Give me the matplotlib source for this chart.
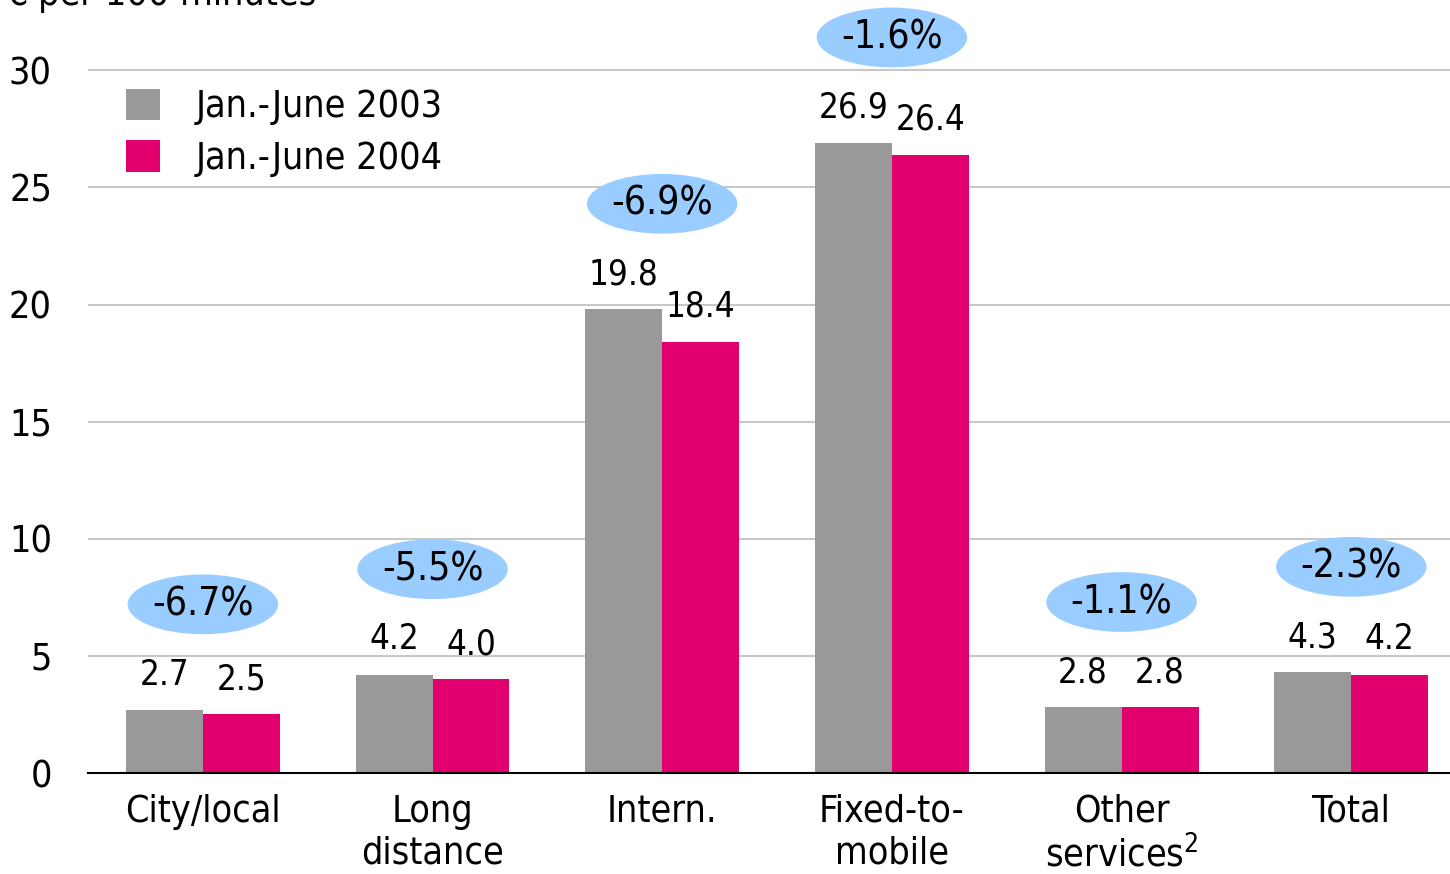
import matplotlib.pyplot as plt
from matplotlib.patches import Ellipse, Patch
import numpy as np

plt.rcParams['font.family'] = ['DejaVu Sans']
plt.rcParams['font.stretch'] = 'condensed'

categories = ['City/local', 'Long\ndistance', 'Intern.', 'Fixed-to-\nmobile',
              'Other\nservices$^2$', 'Total']
values_2003 = [2.7, 4.2, 19.8, 26.9, 2.8, 4.3]
values_2004 = [2.5, 4.0, 18.4, 26.4, 2.8, 4.2]
changes = ['-6.7%', '-5.5%', '-6.9%', '-1.6%', '-1.1%', '-2.3%']
series_names = ['Jan.-June 2003', 'Jan.-June 2004']

GRAY = '#999999'
PINK = '#e2006e'
BLUE = '#99ccff'

fig = plt.figure(figsize=(14.5, 8.74), dpi=100)
ax = fig.add_axes([88 / 1450, 1 - 773 / 874, 1 - 88 / 1450, 773 / 874])

x = np.arange(len(categories))
w = 0.335
ax.bar(x - w / 2, values_2003, w, color=GRAY, zorder=3)
ax.bar(x + w / 2, values_2004, w, color=PINK, zorder=3)

ax.set_xlim(-0.5, 5.43)
ax.set_ylim(0, 33)
ax.set_yticks(range(0, 31, 5))
ax.grid(axis='y', color='#c8c8c8', linewidth=1.5, zorder=0)
for s in ['left', 'right', 'top']:
    ax.spines[s].set_visible(False)
ax.spines['bottom'].set_linewidth(1.5)
ax.spines['bottom'].set_zorder(4)
ax.tick_params(axis='y', length=0, labelsize=27, pad=26)
ax.tick_params(axis='x', length=0, labelsize=27, pad=15)
ax.set_xticks(x)
ax.set_xticklabels(categories, linespacing=1.2)

# value labels
for xi, v1, v2 in zip(x, values_2003, values_2004):
    ax.text(xi - w / 2, v1 + 1.5, f'{v1:.1f}', ha='center', va='center',
            fontsize=25, zorder=5)
    ax.text(xi + w / 2, v2 + 1.5, f'{v2:.1f}', ha='center', va='center',
            fontsize=25, zorder=5)

# change ellipses
for xi, v1, v2, c in zip(x, values_2003, values_2004, changes):
    yc = max(v1, v2) + 4.5
    ax.add_patch(Ellipse((xi, yc), 0.655, 2.55, facecolor=BLUE,
                         edgecolor='none', zorder=5, clip_on=False))
    ax.text(xi, yc, c, ha='center', va='center', fontsize=28, zorder=6)

handles = [Patch(facecolor=GRAY), Patch(facecolor=PINK)]
ax.legend(handles, series_names, loc='upper left', bbox_to_anchor=(0.028, 0.885),
          frameon=False, fontsize=27, handlelength=0.9, handleheight=0.9,
          handletextpad=0.95, labelspacing=0.4, borderaxespad=0, borderpad=0)

fig.text(0.004, 1 - 5 / 874, '€ per 100 minutes', fontsize=27, va='baseline')

fig.savefig('out.png', dpi=100)
